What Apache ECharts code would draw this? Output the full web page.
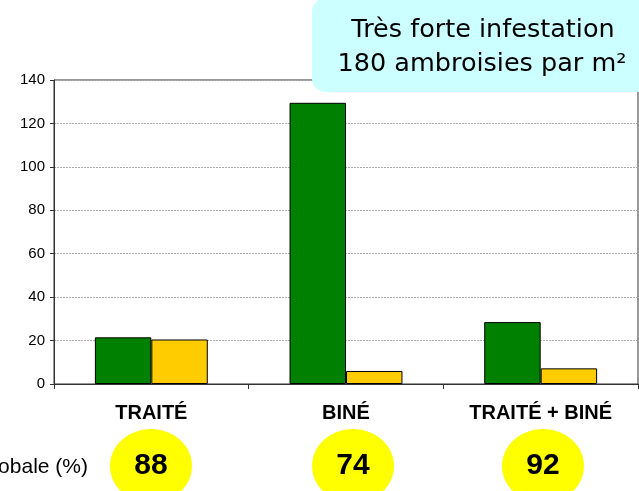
<!DOCTYPE html>
<html>
<head>
<meta charset="utf-8">
<script src="https://cdn.jsdelivr.net/npm/echarts@6/dist/echarts.min.js"></script>
<style>
html,body{margin:0;padding:0;background:#fff;}
#c{width:639px;height:491px;}
</style>
</head>
<body>
<div id="c"></div>
<script>
const categories = ['TRAITÉ', 'BINÉ', 'TRAITÉ + BINÉ'];
const serieVerte = [21.5, 129.5, 28.5];
const serieJaune = [20.5, 6, 7.2];
const efficacite = [88, 74, 92];
const yTicks = [0, 20, 40, 60, 80, 100, 120, 140];
const titreLignes = ['Très forte infestation', '180 ambroisies par m²'];
const legendeGauche = 'Efficacité globale (%)';

const chart = echarts.init(document.getElementById('c'), null, {renderer: 'canvas'});
const circleX = [151, 353, 543];

const option = {
  animation: false,
  backgroundColor: '#fff',
  grid: {left: 54, right: 1, top: 80, bottom: 107, show: true, borderColor: '#333', borderWidth: 1, backgroundColor: 'transparent'},
  xAxis: {
    type: 'category',
    data: categories,
    axisLine: {lineStyle: {color: '#333', width: 1}},
    axisTick: {show: true, length: 5, lineStyle: {color: '#333'}},
    axisLabel: {margin: 19, color: '#000', fontFamily: 'Liberation Sans, Arial', fontWeight: 'bold', fontSize: 20}
  },
  yAxis: {
    type: 'value',
    min: yTicks[0], max: yTicks[yTicks.length - 1], interval: 20,
    axisLine: {show: true, lineStyle: {color: '#333', width: 1}},
    axisTick: {show: true, length: 4, lineStyle: {color: '#333'}},
    axisLabel: {margin: 9, color: '#000', fontFamily: 'Liberation Sans, Arial', fontSize: 15},
    splitLine: {show: true, lineStyle: {color: '#aaa', type: [2, 1], width: 1}}
  },
  series: [
    {type: 'bar', data: serieVerte, barGap: 0, barCategoryGap: '42%',
     itemStyle: {color: '#008000', borderColor: '#000', borderWidth: 1}},
    {type: 'bar', data: serieJaune, barGap: 0, barCategoryGap: '42%',
     itemStyle: {color: '#FFCC00', borderColor: '#000', borderWidth: 1}}
  ],
  graphic: [
    {type: 'rect', shape: {x: 312, y: -2, width: 345, height: 94, r: 14}, style: {fill: '#CCFFFF'}, z: 100},
    {type: 'text', x: 483, y: 30, z: 101, style: {text: titreLignes[0], fill: '#000', font: '25.5px "DejaVu Sans"', align: 'center', verticalAlign: 'middle'}},
    {type: 'text', x: 482, y: 64, z: 101, style: {text: titreLignes[1], fill: '#000', font: '25.5px "DejaVu Sans"', align: 'center', verticalAlign: 'middle'}},
    {type: 'text', x: 88, y: 467, z: 101, style: {text: legendeGauche, fill: '#000', font: '21px "Liberation Sans"', align: 'right', verticalAlign: 'middle'}}
  ].concat(efficacite.flatMap((v, i) => [
    {type: 'ellipse', shape: {cx: circleX[i], cy: 466, rx: 41, ry: 37}, style: {fill: '#FFFF00'}, z: 100},
    {type: 'text', x: circleX[i], y: 466, z: 101, style: {text: String(v), fill: '#000', font: 'bold 30px "Liberation Sans"', align: 'center', verticalAlign: 'middle'}}
  ]))
};
chart.setOption(option);
</script>
</body>
</html>
